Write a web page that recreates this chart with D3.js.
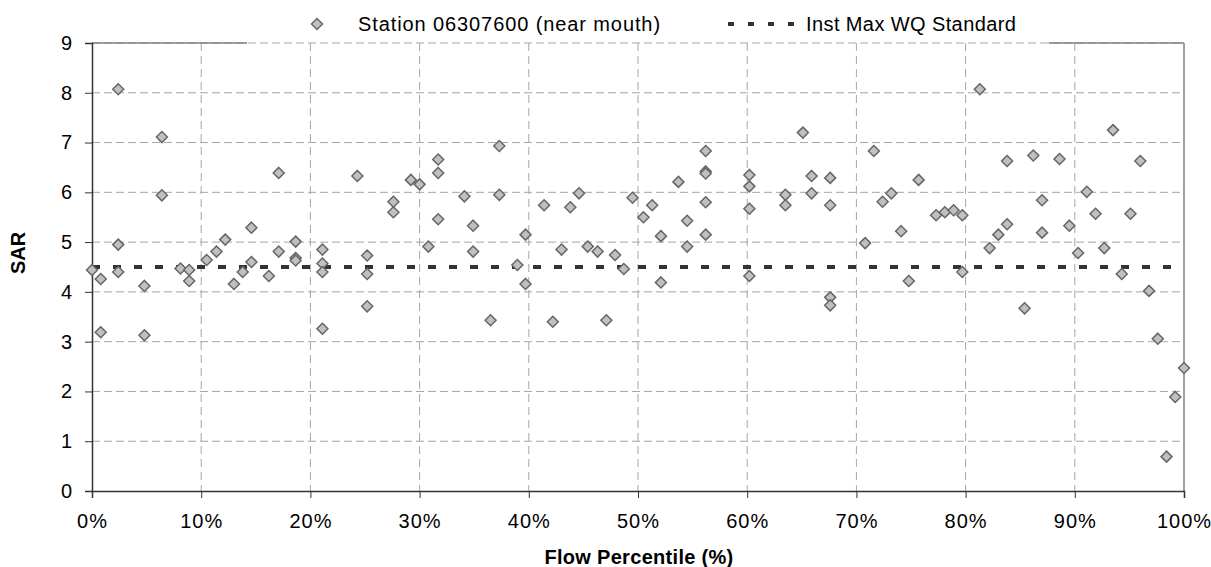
<!DOCTYPE html>
<html>
<head>
<meta charset="utf-8">
<script src="https://cdn.jsdelivr.net/npm/d3@7"></script>
<style>
  body { margin: 0; background: #fff; }
  svg { display: block; font-family: "Liberation Sans", Arial, sans-serif; }
</style>
</head>
<body>
<div id="chart"></div>
<script>
// DATA
const flowPercentile = [
  0.0, 0.8, 0.8, 2.4, 2.4, 2.4, 4.8, 4.8, 6.4, 6.4,
  8.1, 8.9, 8.9, 10.5, 11.4, 12.2, 13.0, 13.8, 14.6, 14.6,
  16.2, 17.1, 17.1, 18.65, 18.65, 18.65, 21.1, 21.1, 21.1, 21.1,
  24.3, 25.2, 25.2, 25.2, 27.6, 27.6, 29.2, 30.0, 30.8, 31.7,
  31.7, 31.7, 34.1, 34.9, 34.9, 36.5, 37.3, 37.3, 38.95, 39.7,
  39.7, 41.4, 42.2, 43.0, 43.8, 44.6, 45.4, 46.3, 47.1, 47.9,
  48.7, 49.5, 50.5, 51.3, 52.1, 52.1, 53.7, 54.5, 54.5, 56.2,
  56.2, 56.2, 56.2, 56.2, 60.2, 60.2, 60.2, 60.2, 63.5, 63.5,
  65.1, 65.9, 65.9, 67.6, 67.6, 67.6, 67.6, 70.8, 71.6, 72.4,
  73.2, 74.1, 74.8, 75.7, 77.3, 78.1, 78.9, 79.7, 79.7, 81.3,
  82.2, 83.0, 83.8, 83.8, 85.4, 86.2, 87.0, 87.0, 88.6, 89.5,
  90.3, 91.1, 91.9, 92.7, 93.5, 94.3, 95.1, 96.0, 96.8, 97.6,
  98.4, 99.2, 100.0
];
const sar = [
  4.44, 4.26, 3.19, 8.07, 4.95, 4.40, 4.12, 3.13, 7.11, 5.94,
  4.47, 4.44, 4.22, 4.64, 4.81, 5.05, 4.16, 4.40, 5.29, 4.60,
  4.32, 6.39, 4.81, 5.01, 4.68, 4.63, 4.85, 4.57, 4.40, 3.26,
  6.33, 4.73, 4.36, 3.71, 5.81, 5.60, 6.25, 6.16, 4.91, 6.66,
  6.39, 5.46, 5.92, 5.33, 4.81, 3.43, 6.93, 5.95, 4.54, 5.15,
  4.16, 5.74, 3.40, 4.85, 5.70, 5.98, 4.91, 4.81, 3.43, 4.74,
  4.46, 5.89, 5.50, 5.74, 5.12, 4.19, 6.21, 5.43, 4.91, 6.83,
  6.42, 6.38, 5.80, 5.15, 6.35, 6.12, 5.67, 4.32, 5.95, 5.74,
  7.20, 6.33, 5.98, 6.29, 5.74, 3.89, 3.73, 4.98, 6.83, 5.81,
  5.98, 5.22, 4.22, 6.25, 5.54, 5.60, 5.64, 5.54, 4.40, 8.07,
  4.88, 5.15, 6.63, 5.36, 3.67, 6.74, 5.84, 5.19, 6.67, 5.33,
  4.78, 6.01, 5.57, 4.88, 7.25, 4.36, 5.57, 6.63, 4.02, 3.06,
  0.69, 1.89, 2.47
];
const wqStandard = 4.5;
const xTicks = [0, 10, 20, 30, 40, 50, 60, 70, 80, 90, 100];
const yTicks = [0, 1, 2, 3, 4, 5, 6, 7, 8, 9];
const seriesNames = ["Station 06307600 (near mouth)", "Inst Max WQ Standard"];

// CHART CODE
const svgWidth = 1211;
const svgHeight = 567;
const margin = {top: 43, right: 27, bottom: 76, left: 92};
const width = svgWidth - margin.left - margin.right;
const height = svgHeight - margin.top - margin.bottom;

const points = flowPercentile.map((p, i) => ({pct: p, sar: sar[i]}));

const svg = d3.select("#chart")
  .append("svg")
  .attr("width", svgWidth)
  .attr("height", svgHeight);

const chartGroup = svg.append("g")
  .attr("transform", `translate(${margin.left}, ${margin.top})`);

// Scales
const xScale = d3.scaleLinear().domain([0, 100]).range([0, width]);
const yScale = d3.scaleLinear().domain([0, 9]).range([height, 0]);

const gridColor = "#a6a6a6";

// Gridlines
chartGroup.append("g")
  .selectAll("line")
  .data(yTicks.filter(t => t > 0))
  .enter()
  .append("line")
  .attr("x1", 0)
  .attr("x2", width)
  .attr("y1", d => yScale(d))
  .attr("y2", d => yScale(d))
  .attr("stroke", gridColor)
  .attr("stroke-width", 1)
  .attr("stroke-dasharray", "8,4");

chartGroup.append("g")
  .selectAll("line")
  .data(xTicks.filter(t => t > 0 && t < 100))
  .enter()
  .append("line")
  .attr("x1", d => xScale(d))
  .attr("x2", d => xScale(d))
  .attr("y1", 0)
  .attr("y2", height)
  .attr("stroke", gridColor)
  .attr("stroke-width", 1)
  .attr("stroke-dasharray", "8,5");

// Plot border (top partly hidden behind legend, right side solid)
chartGroup.append("line")
  .attr("x1", 0).attr("x2", xScale(14.2))
  .attr("y1", 0).attr("y2", 0)
  .attr("stroke", "#808080").attr("stroke-width", 1.5);
chartGroup.append("line")
  .attr("x1", xScale(87.6)).attr("x2", width)
  .attr("y1", 0).attr("y2", 0)
  .attr("stroke", "#808080").attr("stroke-width", 1.5);
chartGroup.append("line")
  .attr("x1", width).attr("x2", width)
  .attr("y1", 0).attr("y2", height)
  .attr("stroke", "#808080").attr("stroke-width", 1.5);

// Axes
const xAxis = d3.axisBottom(xScale)
  .tickValues(xTicks)
  .tickFormat(d => d + "%")
  .tickSize(7)
  .tickPadding(16);
const yAxis = d3.axisLeft(yScale)
  .tickValues(yTicks)
  .tickSize(7)
  .tickPadding(12);

const xAxisGroup = chartGroup.append("g")
  .attr("transform", `translate(0, ${height})`)
  .call(xAxis);
const yAxisGroup = chartGroup.append("g")
  .call(yAxis);

[xAxisGroup, yAxisGroup].forEach(g => {
  g.select(".domain").attr("stroke", "#333").attr("stroke-width", 1.5);
  g.selectAll(".tick line").attr("stroke", "#333");
  g.selectAll(".tick text")
    .attr("font-family", "'Liberation Sans', Arial, sans-serif")
    .attr("font-size", 20)
    .attr("letter-spacing", "1px")
    .attr("fill", "#000");
});

// Standard line
chartGroup.append("line")
  .attr("x1", xScale(0))
  .attr("x2", xScale(100))
  .attr("y1", yScale(wqStandard))
  .attr("y2", yScale(wqStandard))
  .attr("stroke", "#333")
  .attr("stroke-width", 4)
  .attr("stroke-dasharray", "8,13");

// Diamond markers
const diamond = "M0,-5.5L5.5,0L0,5.5L-5.5,0Z";
chartGroup.append("g")
  .selectAll("path")
  .data(points)
  .enter()
  .append("path")
  .attr("d", diamond)
  .attr("transform", d => `translate(${xScale(d.pct)}, ${yScale(d.sar)})`)
  .attr("fill", "#c0c0c0")
  .attr("stroke", "#666")
  .attr("stroke-width", 1.5);

// Axis labels
chartGroup.append("text")
  .attr("transform", `translate(${18 - margin.left}, ${253 - margin.top}) rotate(-90)`)
  .attr("text-anchor", "middle")
  .attr("dy", "0.35em")
  .attr("font-size", 20)
  .attr("font-weight", "bold")
  .text("SAR");

chartGroup.append("text")
  .attr("x", 639 - margin.left)
  .attr("y", 564 - margin.top)
  .attr("text-anchor", "middle")
  .attr("font-size", 20)
  .attr("font-weight", "bold")
  .attr("letter-spacing", "0.3px")
  .text("Flow Percentile (%)");

// Legend
const legend = svg.append("g");
legend.append("path")
  .attr("d", diamond)
  .attr("transform", "translate(317, 24)")
  .attr("fill", "#c0c0c0")
  .attr("stroke", "#666")
  .attr("stroke-width", 1.5);
legend.append("text")
  .attr("x", 358)
  .attr("y", 24)
  .attr("dy", "0.35em")
  .attr("font-size", 20)
  .attr("letter-spacing", "0.9px")
  .text(seriesNames[0]);
legend.append("line")
  .attr("x1", 728).attr("x2", 803)
  .attr("y1", 24).attr("y2", 24)
  .attr("stroke", "#333")
  .attr("stroke-width", 4)
  .attr("stroke-dasharray", "6,14");
legend.append("text")
  .attr("x", 806)
  .attr("y", 24)
  .attr("dy", "0.35em")
  .attr("font-size", 20)
  .attr("letter-spacing", "0.4px")
  .text(seriesNames[1]);
</script>
</body>
</html>
